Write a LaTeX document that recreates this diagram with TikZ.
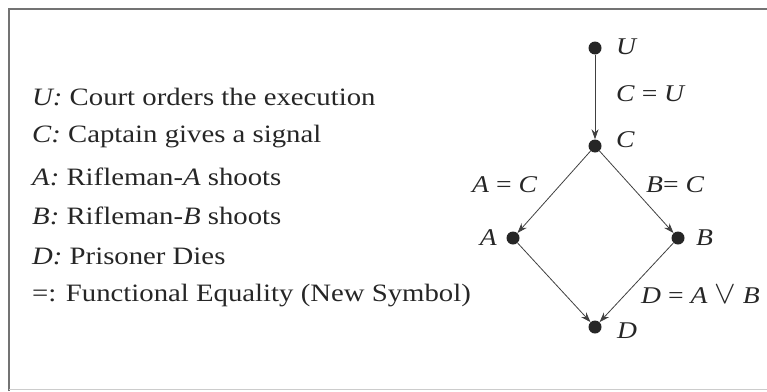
\documentclass[tikz,border=0pt]{standalone}
\usepackage{fontspec}
\setmainfont{Liberation Serif}[FakeStretch=1.15]
\usetikzlibrary{arrows.meta}
\begin{document}
\begin{tikzpicture}[x=1pt,y=-1pt,
  dot/.style={circle,fill=black!85,inner sep=0pt,minimum size=13pt},
  lbl/.style={font=\fontsize{24}{28}\selectfont,inner sep=0pt,text=black!85},
  legend/.style={font=\fontsize{25}{30}\selectfont,anchor=west,inner sep=0pt,text=black!85},
  edge/.style={draw=black!75,line width=0.8pt,-{Stealth[length=10pt,width=7pt]},shorten >=0pt}]
\useasboundingbox (0,0) rectangle (767,391);
\draw[black!55,line width=2pt] (9,391) -- (9,9) -- (767,9);
\draw[black!20,line width=1pt] (9,389) -- (767,389);
% legend
\node[legend] (l1) at (32,97) {\textit{U:} Court orders the execution};
\node[legend] (l2) at (32,137) {\textit{C:} Captain gives a signal};
\node[legend] (l3) at (32,177) {\textit{A:} Rifleman-\textit{A} shoots};
\node[legend] (l4) at (32,216) {\textit{B:} Rifleman-\textit{B} shoots};
\node[legend] (l5) at (32,256) {\textit{D:} Prisoner Dies};
\node[legend] (l6) at (32,296) {=: Functional Equality (New Symbol)};
% graph
\node[dot] (U) at (595,48) {};
\node[dot] (C) at (595,146) {};
\node[dot] (A) at (513,238) {};
\node[dot] (B) at (678,238) {};
\node[dot] (D) at (595,327) {};
\node[lbl,anchor=west] (tU) at (616,47) {\textit{U}};
\node[lbl,anchor=west] (tC) at (616,140) {\textit{C}};
\node[lbl,anchor=east] (tA) at (497,238) {\textit{A}};
\node[lbl,anchor=west] (tB) at (696,238) {\textit{B}};
\node[lbl,anchor=west] (tD) at (617,331) {\textit{D}};
\draw[edge] (U) -- (C);
\draw[edge] (C) -- (A);
\draw[edge] (C) -- (B);
\draw[edge] (A) -- (D);
\draw[edge] (B) -- (D);
\node[lbl,anchor=west] (eCU) at (616,94) {\textit{C} = \textit{U}};
\node[lbl,anchor=west] (eAC) at (472,185) {\textit{A} = \textit{C}};
\node[lbl,anchor=west] (eBC) at (646,185) {\textit{B}= \textit{C}};
\node[lbl,anchor=west] (eD) at (641,295) {\textit{D} = \textit{A} $\mathbin{\scalebox{1.3}{$\vee$}}$ \textit{B}};
\end{tikzpicture}
\end{document}
